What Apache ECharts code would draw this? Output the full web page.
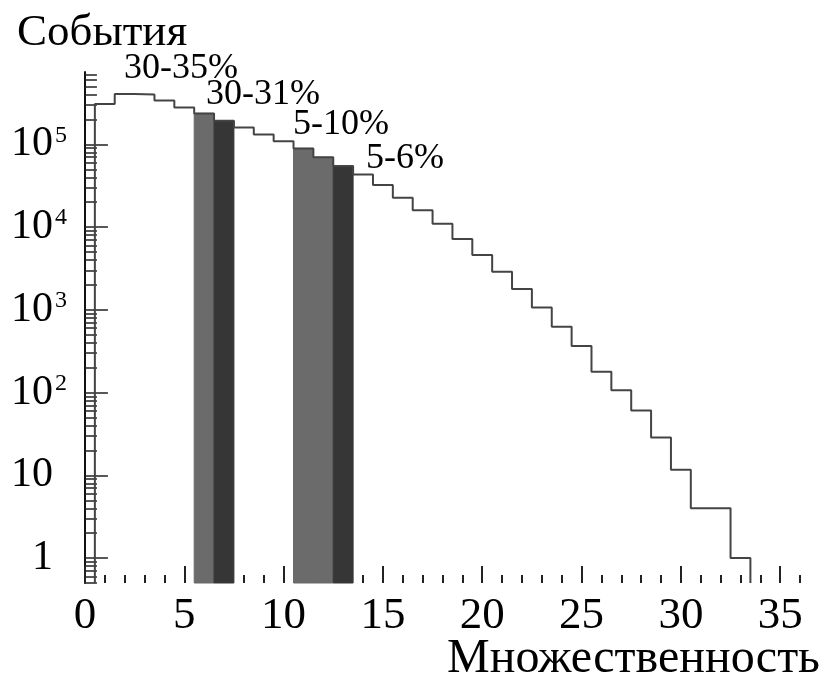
<!DOCTYPE html>
<html>
<head>
<meta charset="utf-8">
<script src="https://cdn.jsdelivr.net/npm/echarts@6/dist/echarts.min.js"></script>
<style>
  html, body { margin: 0; padding: 0; background: #fff; }
  #chart { width: 819px; height: 678px; }
</style>
</head>
<body>
<div id="chart"></div>
<script>
// multiplicity bins (centres, width 1) and number of events
var bins = [1, 2, 3, 4, 5, 6, 7, 8, 9, 10, 11, 12, 13, 14, 15, 16, 17, 18, 19, 20,
            21, 22, 23, 24, 25, 26, 27, 28, 29, 30, 31, 32, 33];
var events = [3.07e5, 4.08e5, 4.02e5, 3.40e5, 2.80e5, 2.37e5, 1.93e5, 1.60e5, 1.32e5, 1.09e5,
              8.95e4, 6.97e4, 5.47e4, 4.32e4, 3.23e4, 2.27e4, 1.60e4, 1.10e4, 7180, 4600,
              2890, 1790, 1070, 627, 365, 179, 107, 60.6, 28.6, 11.7, 4, 4, 1];
// centrality cuts: light grey / dark grey bins
var lightBins = [6, 11, 12];
var darkBins = [7, 13];
var cutLabels = ['30-35%', '30-31%', '5-10%', '5-6%'];

var xMajorTicks = [0, 5, 10, 15, 20, 25, 30, 35];
var yMajorTicks = [1, 10, 100, 1000, 10000, 100000];

var xMin = -0.5, xMax = 36.5;
var yMin = 0.5, yMax = 7.5e5;
var FONT = 'Liberation Serif';

var xMinorTicks = [];
for (var i = 1; i <= 36; i++) {
  if (i % 5 !== 0) xMinorTicks.push(i);
}
var yMinorTicks = [];
for (var d = -1; d <= 5; d++) {
  for (var k = 2; k <= 9; k++) {
    var t = k * Math.pow(10, d);
    if (t >= yMin && t <= yMax) yMinorTicks.push(+t.toPrecision(3));
  }
}

// histogram outline, closed down to the axis bottom
var outline = [[bins[0] - 0.5, yMin]];
bins.forEach(function (b, i) {
  outline.push([b - 0.5, events[i]], [b + 0.5, events[i]]);
});
outline.push([bins[bins.length - 1] + 0.5, yMin]);

var shaded = [];
bins.forEach(function (b, i) {
  if (lightBins.indexOf(b) >= 0) shaded.push([b, events[i], 0]);
  if (darkBins.indexOf(b) >= 0) shaded.push([b, events[i], 1]);
});

function yLabel(v) {
  var e = Math.round(Math.log10(v));
  if (e === 0) return '{n|1}';
  if (e === 1) return '{n|10}';
  return '{b|10}{s|' + e + '}';
}

var chart = echarts.init(document.getElementById('chart'));
var option = {
  animation: false,
  backgroundColor: '#fff',
  grid: { left: 75, right: 9, top: 72, bottom: 95 },
  xAxis: [
    {
      type: 'value', min: xMin, max: xMax, position: 'bottom',
      axisLine: { show: false }, splitLine: { show: false },
      axisTick: { inside: true, length: 17, customValues: xMajorTicks,
                  lineStyle: { color: '#222', width: 2 } },
      axisLabel: { customValues: xMajorTicks, fontFamily: FONT, fontSize: 45,
                   color: '#000', margin: 11 }
    },
    {
      type: 'value', min: xMin, max: xMax, position: 'bottom', offset: 0,
      axisLine: { show: false }, splitLine: { show: false },
      axisTick: { inside: true, length: 8, customValues: xMinorTicks,
                  lineStyle: { color: '#222', width: 2 } },
      axisLabel: { show: false }
    }
  ],
  yAxis: [
    {
      type: 'log', min: yMin, max: yMax, position: 'left',
      axisLine: { show: true, lineStyle: { color: '#111', width: 2 } },
      splitLine: { show: false },
      axisTick: { inside: true, length: 23, customValues: yMajorTicks,
                  lineStyle: { color: '#222', width: 1.5 } },
      axisLabel: {
        customValues: yMajorTicks, margin: 8, color: '#000',
        formatter: yLabel,
        rich: {
          n: { fontFamily: FONT, fontSize: 42, lineHeight: 42, color: '#000', padding: [0, 14, 0, 0] },
          b: { fontFamily: FONT, fontSize: 42, lineHeight: 42, color: '#000' },
          s: { fontFamily: FONT, fontSize: 24, lineHeight: 24, color: '#000', verticalAlign: 'top', padding: [0, 0, 0, 2] }
        }
      }
    },
    {
      type: 'log', min: yMin, max: yMax, position: 'left', offset: 0,
      axisLine: { show: false }, splitLine: { show: false },
      axisTick: { inside: true, length: 12, customValues: yMinorTicks,
                  lineStyle: { color: '#222', width: 1.5 } },
      axisLabel: { show: false }
    }
  ],
  series: [
    {
      type: 'custom',
      xAxisIndex: 0, yAxisIndex: 0,
      data: shaded,
      z: 2,
      renderItem: function (params, api) {
        var x = api.value(0), v = api.value(1);
        var p0 = api.coord([x - 0.5, v]);
        var p1 = api.coord([x + 0.5, yMin]);
        var c = api.value(2) === 1 ? '#363636' : '#6b6b6b';
        return {
          type: 'rect',
          shape: { x: p0[0], y: p0[1], width: p1[0] - p0[0], height: p1[1] - p0[1] },
          style: { fill: c, stroke: c, lineWidth: 1 }
        };
      }
    },
    {
      type: 'line',
      xAxisIndex: 0, yAxisIndex: 0,
      data: outline,
      symbol: 'none',
      z: 3,
      lineStyle: { color: '#444', width: 2 }
    }
  ],
  graphic: [
    { type: 'text', x: 17, y: 33, style: { text: 'События', font: '45px "Liberation Serif"', fill: '#000', textAlign: 'left', textVerticalAlign: 'middle' } },
    { type: 'text', x: 820, y: 659, style: { text: 'Множественность', font: '48px "Liberation Serif"', fill: '#000', textAlign: 'right', textVerticalAlign: 'middle' } },
    { type: 'text', x: 181, y: 69, style: { text: cutLabels[0], font: '36px "Liberation Serif"', fill: '#000', textAlign: 'center', textVerticalAlign: 'middle' } },
    { type: 'text', x: 263, y: 95, style: { text: cutLabels[1], font: '36px "Liberation Serif"', fill: '#000', textAlign: 'center', textVerticalAlign: 'middle' } },
    { type: 'text', x: 341, y: 125, style: { text: cutLabels[2], font: '36px "Liberation Serif"', fill: '#000', textAlign: 'center', textVerticalAlign: 'middle' } },
    { type: 'text', x: 405, y: 159, style: { text: cutLabels[3], font: '36px "Liberation Serif"', fill: '#000', textAlign: 'center', textVerticalAlign: 'middle' } }
  ]
};
chart.setOption(option);
</script>
</body>
</html>
